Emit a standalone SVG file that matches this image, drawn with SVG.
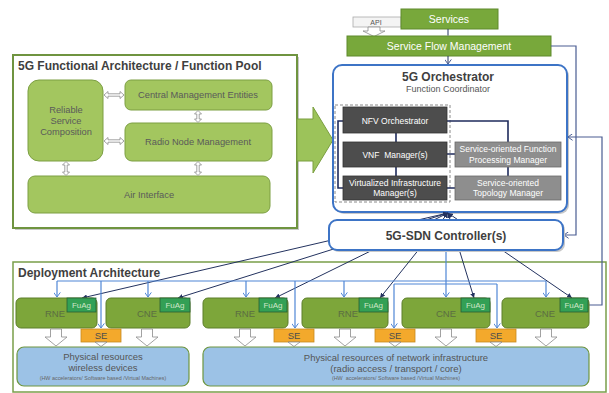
<svg xmlns="http://www.w3.org/2000/svg" width="609" height="393" viewBox="0 0 609 393">
<defs>
<style>
text{font-family:"Liberation Sans",Arial,sans-serif}
.frame{fill:#fff;stroke:#6f9440;stroke-width:2}
.shadow{fill:#c8c8c8}
.pool{fill:#a3c65f;stroke:#7c9f43;stroke-width:1}
.pool-t{fill:#5a5a5a;font-size:9.3px;text-anchor:middle}
.svc{fill:#78a83b;stroke:#5e8a2c;stroke-width:1}
.svc-t{fill:#fff;font-size:10.5px;text-anchor:middle}
.orch{fill:#fff;stroke:#3d74c6;stroke-width:2}
.dk{fill:#4d4d4d;stroke:#333;stroke-width:0.8}
.lt{fill:#8e8e8e;stroke:#6a6a6a;stroke-width:0.8}
.box-t{fill:#fff;font-size:8.5px;text-anchor:middle}
.ne{fill:#7da63a;stroke:#5d7f2b;stroke-width:1}
.ne-t{fill:#5b6d42;font-size:9.5px;text-anchor:middle}
.fuag{fill:#33a055;stroke:#2a5e34;stroke-width:0.8}
.fuag-t{fill:#cfe6c8;font-size:8px;text-anchor:middle}
.se{fill:#f3a92c;stroke:#c68a22;stroke-width:0.8}
.se-t{fill:#4d4d4d;font-size:9.5px;text-anchor:middle}
.phy{fill:#9cc2e6;stroke:#6e9640;stroke-width:1.2}
.phy-t{fill:#555;font-size:9.5px;text-anchor:middle}
.tiny{fill:#666;font-size:5.4px;text-anchor:middle}
.hollow{fill:#fff;stroke:#8a8a8a;stroke-width:0.8}
.navy{fill:none;stroke:#23325f;stroke-width:1}
.bus{fill:none;stroke:#4f86d6;stroke-width:1.2}
.feed{fill:none;stroke:#4a5d92;stroke-width:1.2}
.link{fill:none;stroke:#1f2b5c;stroke-width:1.6}
.title{fill:#3f3f3f;font-size:12px;font-weight:bold}
</style>
<marker id="solid" viewBox="0 0 6 6" refX="6" refY="3" markerWidth="5" markerHeight="5" markerUnits="userSpaceOnUse" orient="auto-start-reverse">
<path d="M0,0 L6,3 L0,6 Z" fill="#23325f"/>
</marker>
<marker id="vee" viewBox="0 0 6 8" refX="5.5" refY="4" markerWidth="5" markerHeight="7" markerUnits="userSpaceOnUse" orient="auto">
<path d="M0,0 L5.5,4 L0,8" fill="none" stroke="#4f86d6" stroke-width="1.2"/>
</marker>
<marker id="vee-dark" viewBox="0 0 6 8" refX="5.5" refY="4" markerWidth="5" markerHeight="7" markerUnits="userSpaceOnUse" orient="auto">
<path d="M0,0 L5.5,4 L0,8" fill="none" stroke="#4a5d92" stroke-width="1.2"/>
</marker>
<path id="down-big" d="M-5.5,0 h11 v8 h5.5 l-11,9 l-11,-9 h5.5 z"/>
<path id="down-small" d="M-6,0 h12 l-6,4.5 z"/>
</defs>

<!-- function pool container -->
<g id="function-pool">
<rect class="shadow" x="15" y="57" width="284" height="173"/>
<rect class="frame" x="13" y="55" width="284" height="173"/>
<text class="title" x="18" y="70">5G Functional Architecture / Function Pool</text>
</g>
<g id="reliable-service-composition">
<rect class="pool" x="28" y="80" width="75" height="81" rx="11"/>
<text class="pool-t" x="66" y="113">Reliable</text>
<text class="pool-t" x="66" y="124">Service</text>
<text class="pool-t" x="66" y="135">Composition</text>
</g>
<g id="central-management">
<rect class="pool" x="125" y="80" width="147" height="30" rx="6"/>
<text class="pool-t" x="198" y="98">Central Management Entities</text>
</g>
<g id="radio-node-management">
<rect class="pool" x="125" y="123" width="147" height="38" rx="7"/>
<text class="pool-t" x="198" y="145">Radio Node Management</text>
</g>
<g id="air-interface">
<rect class="pool" x="28" y="176" width="242" height="37" rx="7"/>
<text class="pool-t" x="149" y="198">Air Interface</text>
</g>
<!-- double arrows inside the pool -->
<g id="pool-links" class="hollow">
<path d="M104,95 l4,-3.5 v2.3 h12 v-2.3 l4,3.5 l-4,3.5 v-2.3 h-12 v2.3 z"/>
<path d="M104,141 l4,-3.5 v2.3 h12 v-2.3 l4,3.5 l-4,3.5 v-2.3 h-12 v2.3 z"/>
<path d="M198,110.5 l-3.5,3.5 h2.3 v5 h-2.3 l3.5,3.5 l3.5,-3.5 h-2.3 v-5 h2.3 z"/>
<path d="M66,161.5 l-3.5,3.5 h2.3 v7 h-2.3 l3.5,3.5 l3.5,-3.5 h-2.3 v-7 h2.3 z"/>
<path d="M198,161.5 l-3.5,3.5 h2.3 v7 h-2.3 l3.5,3.5 l3.5,-3.5 h-2.3 v-7 h2.3 z"/>
</g>
<!-- pool feeds the orchestrator -->
<path id="pool-to-orchestrator" d="M297,119 H313 V107 L333,140 L313,173 V161 H297 Z" fill="#9cc35a" stroke="#7a9f3f" stroke-width="1"/>

<!-- top service layer -->
<g id="api">
<rect x="353" y="17" width="48" height="10" fill="#f4f4f4" stroke="#aaa" stroke-width="0.8"/>
<text x="376" y="24.5" font-size="7" fill="#555" text-anchor="middle">API</text>
<path class="hollow" d="M368,27 h12 v4 h5 l-11,5.5 l-11,-5.5 h5 z"/>
</g>
<g id="services">
<rect class="svc" x="401" y="9" width="97" height="20"/>
<text class="svc-t" x="449" y="23">Services</text>
</g>
<g id="service-flow-management">
<rect class="svc" x="347" y="36" width="204" height="20"/>
<text class="svc-t" x="449" y="50">Service Flow Management</text>
</g>

<!-- orchestrator -->
<g id="orchestrator">
<rect class="shadow" x="335" y="67" width="234" height="147" rx="9"/>
<rect class="orch" x="333" y="65" width="234" height="147" rx="9"/>
<text x="448" y="81" font-size="12" font-weight="bold" fill="#3f3f3f" text-anchor="middle">5G Orchestrator</text>
<text x="448" y="92" font-size="9" fill="#555" text-anchor="middle">Function Coordinator</text>
<rect x="335" y="105" width="115" height="97" fill="none" stroke="#8a8a8a" stroke-width="1" stroke-dasharray="3,2"/>
<path class="link" d="M343,121 H338 V188 H343 M396,133 V142 M396,167 V176 M447,121 H508 V142 M447,154 H455 M508,167 V176 M447,188 H455"/>
</g>
<g id="nfv-orchestrator">
<rect class="dk" x="343" y="107" width="104" height="26"/>
<text class="box-t" x="395" y="124">NFV Orchestrator</text>
</g>
<g id="vnf-manager">
<rect class="dk" x="343" y="142" width="104" height="25"/>
<text class="box-t" x="395" y="157.5" style="white-space:pre">VNF  Manager(s)</text>
</g>
<g id="vim">
<rect class="dk" x="343" y="176" width="104" height="24"/>
<text class="box-t" x="395" y="186">Virtualized Infrastructure</text>
<text class="box-t" x="395" y="196">Manager(s)</text>
</g>
<g id="function-processing-manager">
<rect class="lt" x="455" y="142" width="106" height="25"/>
<text class="box-t" x="508" y="152">Service-oriented Function</text>
<text class="box-t" x="508" y="162.5">Processing Manager</text>
</g>
<g id="topology-manager">
<rect class="lt" x="455" y="176" width="106" height="24"/>
<text class="box-t" x="508" y="186">Service-oriented</text>
<text class="box-t" x="508" y="196">Topology Manager</text>
</g>

<!-- deployment container -->
<g id="deployment">
<rect x="13" y="262" width="593" height="130" fill="#fff" stroke="#7a9e4a" stroke-width="1.5"/>
<text class="title" x="18" y="277">Deployment Architecture</text>
</g>

<!-- connectors -->
<g id="connectors">
<path class="navy" d="M448,29 V35.5 M448,56 V64" marker-end="url(#vee-dark)"/>
<path class="feed" d="M551,46 H576 V235 H564" marker-end="url(#vee-dark)"/>
<path class="feed" d="M588,305 H602 V137 H568" marker-end="url(#vee-dark)"/>
<g class="navy" marker-start="url(#solid)" marker-end="url(#solid)">
<path d="M448,213 L82,298"/>
<path d="M448,213 L178,298"/>
<path d="M448,213 L275,298"/>
<path d="M448,213 L380,298"/>
<path d="M448,213 L474,298"/>
<path d="M448,213 L572,298"/>
</g>
<path class="bus" d="M446,250 V281 M57,281 H546 M394,284 H497"/>
<g class="bus" marker-end="url(#vee)">
<path d="M57,281 V297"/>
<path d="M148,281 V297"/>
<path d="M246,281 V297"/>
<path d="M344,281 V297"/>
<path d="M446,281 V297"/>
<path d="M546,281 V297"/>
<path d="M101,281 V328"/>
<path d="M295,281 V328"/>
<path d="M394,284 V328"/>
<path d="M497,284 V328"/>
</g>
</g>

<g id="sdn-controller">
<rect class="shadow" x="331" y="222" width="234" height="30" rx="8"/>
<rect class="orch" x="329" y="220" width="234" height="30" rx="8"/>
<text x="446" y="239.5" font-size="12" font-weight="bold" fill="#3f3f3f" text-anchor="middle">5G-SDN Controller(s)</text>
</g>

<!-- network elements -->
<g id="rne-1">
<rect class="ne" x="16" y="298" width="81" height="30" rx="5"/>
<rect class="fuag" x="67" y="298" width="29" height="14"/>
<text class="fuag-t" x="81.5" y="308">FuAg</text>
<text class="ne-t" x="55" y="316.5">RNE</text>
</g>
<g id="cne-1">
<rect class="ne" x="106" y="298" width="84" height="30" rx="5"/>
<rect class="fuag" x="160" y="298" width="30" height="14"/>
<text class="fuag-t" x="175" y="308">FuAg</text>
<text class="ne-t" x="147" y="316.5">CNE</text>
</g>
<g id="rne-2">
<rect class="ne" x="203" y="298" width="85" height="30" rx="5"/>
<rect class="fuag" x="259" y="298" width="28" height="14"/>
<text class="fuag-t" x="273" y="308">FuAg</text>
<text class="ne-t" x="245" y="316.5">RNE</text>
</g>
<g id="rne-3">
<rect class="ne" x="302" y="298" width="86" height="30" rx="5"/>
<rect class="fuag" x="359" y="298" width="29" height="14"/>
<text class="fuag-t" x="373.5" y="308">FuAg</text>
<text class="ne-t" x="348" y="316.5">RNE</text>
</g>
<g id="cne-2">
<rect class="ne" x="402" y="298" width="88" height="30" rx="5"/>
<rect class="fuag" x="461" y="298" width="29" height="14"/>
<text class="fuag-t" x="475.5" y="308">FuAg</text>
<text class="ne-t" x="446" y="316.5">CNE</text>
</g>
<g id="cne-3">
<rect class="ne" x="502" y="298" width="87" height="30" rx="5"/>
<rect class="fuag" x="560" y="298" width="28" height="14"/>
<text class="fuag-t" x="574" y="308">FuAg</text>
<text class="ne-t" x="545" y="316.5">CNE</text>
</g>

<!-- switching elements -->
<g id="se-1"><rect class="se" x="81" y="329" width="40" height="13"/><text class="se-t" x="101" y="339">SE</text></g>
<g id="se-2"><rect class="se" x="274" y="329" width="40" height="13"/><text class="se-t" x="294" y="339">SE</text></g>
<g id="se-3"><rect class="se" x="375" y="329" width="40" height="13"/><text class="se-t" x="395" y="339">SE</text></g>
<g id="se-4"><rect class="se" x="476" y="329" width="40" height="13"/><text class="se-t" x="496" y="339">SE</text></g>

<!-- mapping onto physical resources -->
<g id="resource-arrows" class="hollow">
<use href="#down-big" x="56" y="329"/>
<use href="#down-big" x="147" y="329"/>
<use href="#down-big" x="245" y="329"/>
<use href="#down-big" x="345" y="329"/>
<use href="#down-big" x="446" y="329"/>
<use href="#down-big" x="546" y="329"/>
<use href="#down-small" x="101" y="342"/>
<use href="#down-small" x="294" y="342"/>
<use href="#down-small" x="395" y="342"/>
<use href="#down-small" x="496" y="342"/>
</g>

<g id="physical-wireless">
<rect class="phy" x="17" y="347" width="172" height="39" rx="7"/>
<text class="phy-t" x="103" y="360">Physical resources</text>
<text class="phy-t" x="103" y="371">wireless devices</text>
<text class="tiny" x="103" y="380">(HW accelerators/ Software based /Virtual Machines)</text>
</g>
<g id="physical-network">
<rect class="phy" x="203" y="347" width="386" height="39" rx="7"/>
<text class="phy-t" x="396" y="361">Physical resources of network infrastructure</text>
<text class="phy-t" x="396" y="371.5">(radio access / transport / core)</text>
<text class="tiny" x="396" y="380" style="white-space:pre">(HW  accelerators/ Software based /Virtual Machines)</text>
</g>
</svg>
